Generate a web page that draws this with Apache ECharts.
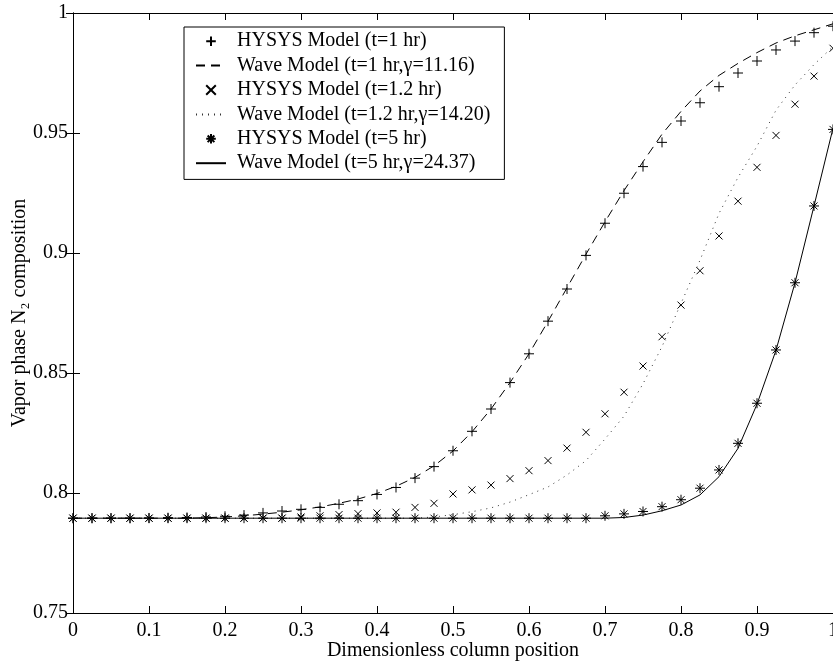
<!DOCTYPE html>
<html>
<head>
<meta charset="utf-8">
<script src="https://cdn.jsdelivr.net/npm/echarts@6/dist/echarts.min.js"></script>
<style>
  html, body { margin: 0; padding: 0; background: #fff; }
  #chart { width: 833px; height: 664px; }
</style>
</head>
<body>
<div id="chart"></div>
<script>
// column positions (dimensionless)
var xs = [0, 0.025, 0.05, 0.075, 0.1, 0.125, 0.15, 0.175, 0.2, 0.225,
          0.25, 0.275, 0.3, 0.325, 0.35, 0.375, 0.4, 0.425, 0.45, 0.475,
          0.5, 0.525, 0.55, 0.575, 0.6, 0.625, 0.65, 0.675, 0.7, 0.725,
          0.75, 0.775, 0.8, 0.825, 0.85, 0.875, 0.9, 0.925, 0.95, 0.975, 1];

var hysys1 = [0.7895, 0.7895, 0.7895, 0.7895, 0.7896, 0.7897, 0.7898, 0.79, 0.7903, 0.7908,
              0.7917, 0.7925, 0.7932, 0.794, 0.7953, 0.7968, 0.7994, 0.8023, 0.8062, 0.811,
              0.8176, 0.8257, 0.835, 0.846, 0.858, 0.8716, 0.885, 0.899, 0.9124, 0.9249,
              0.936, 0.9461, 0.955, 0.9626, 0.9693, 0.975, 0.98, 0.9846, 0.9883, 0.9918, 0.9945];

var wave1 = [0.7895, 0.7895, 0.7895, 0.7895, 0.7895, 0.7895, 0.7895, 0.7897, 0.79, 0.7905,
             0.7912, 0.792, 0.793, 0.7942, 0.7957, 0.7975, 0.7998, 0.8028, 0.8065, 0.8113,
             0.8175, 0.8255, 0.835, 0.846, 0.858, 0.8715, 0.8855, 0.8995, 0.913, 0.926,
             0.938, 0.9495, 0.959, 0.9675, 0.974, 0.979, 0.9835, 0.9875, 0.9905, 0.993, 0.9955];

var hysys12 = [0.7895, 0.7895, 0.7895, 0.7895, 0.7895, 0.7895, 0.7895, 0.7895, 0.7895, 0.7895,
               0.7895, 0.7895, 0.79, 0.7905, 0.791, 0.7914, 0.7917, 0.792, 0.794, 0.7957,
               0.7996, 0.8013, 0.8033, 0.806, 0.8093, 0.8135, 0.8187, 0.8253, 0.833, 0.842,
               0.8529, 0.8651, 0.8783, 0.8926, 0.9071, 0.9216, 0.9357, 0.949, 0.962, 0.9737, 0.9853];

var wave12 = [0.7895, 0.7895, 0.7895, 0.7895, 0.7895, 0.7895, 0.7895, 0.7895, 0.7895, 0.7895,
              0.7895, 0.7895, 0.7895, 0.7895, 0.7895, 0.7895, 0.7895, 0.7895, 0.7895, 0.79,
              0.791, 0.7922, 0.7938, 0.7962, 0.7993, 0.8025, 0.8075, 0.8135, 0.8225, 0.832,
              0.8455, 0.861, 0.879, 0.897, 0.9165, 0.9315, 0.9445, 0.9595, 0.97, 0.9785, 0.986];

var hysys5 = [0.7895, 0.7895, 0.7895, 0.7895, 0.7895, 0.7895, 0.7895, 0.7895, 0.7895, 0.7895,
              0.7895, 0.7895, 0.7895, 0.7895, 0.7895, 0.7895, 0.7895, 0.7895, 0.7895, 0.7895,
              0.7895, 0.7895, 0.7895, 0.7895, 0.7895, 0.7895, 0.7895, 0.7895, 0.7905, 0.7913,
              0.7923, 0.7943, 0.7972, 0.802, 0.8096, 0.8207, 0.8374, 0.8596, 0.8876, 0.9196, 0.9515];

var wave5 = [0.7895, 0.7895, 0.7895, 0.7895, 0.7895, 0.7895, 0.7895, 0.7895, 0.7895, 0.7895,
             0.7895, 0.7895, 0.7895, 0.7895, 0.7895, 0.7895, 0.7895, 0.7895, 0.7895, 0.7895,
             0.7895, 0.7895, 0.7895, 0.7895, 0.7895, 0.7895, 0.7895, 0.7895, 0.7895, 0.7898,
             0.7908, 0.7926, 0.795, 0.7992, 0.8068, 0.8186, 0.837, 0.8595, 0.8876, 0.9196, 0.952];

var names = ['HYSYS Model (t=1 hr)', 'Wave Model (t=1 hr,γ=11.16)',
             'HYSYS Model (t=1.2 hr)', 'Wave Model (t=1.2 hr,γ=14.20)',
             'HYSYS Model (t=5 hr)', 'Wave Model (t=5 hr,γ=24.37)'];

var font = "'Liberation Serif', 'Times New Roman', serif";

function pairs(ys) {
    return xs.map(function (x, i) { return [x, ys[i]]; });
}

function markers(name, ys, path, size) {
    return {
        name: name,
        type: 'line',
        data: pairs(ys),
        symbol: path,
        symbolSize: size,
        symbolKeepAspect: true,
        showSymbol: true,
        lineStyle: { width: 0, opacity: 0 },
        itemStyle: { color: 'none', borderColor: '#000', borderWidth: 1 },
        z: 5
    };
}

function curve(name, ys, dash, color) {
    return {
        name: name,
        type: 'line',
        data: pairs(ys),
        symbol: 'none',
        lineStyle: { color: color, width: 1, type: dash },
        itemStyle: { color: color },
        z: 3
    };
}

// legend entries: the wave model lines get no marker in the key
var legendData = names.map(function (n, i) {
    return i % 2 === 1 ? { name: n, itemStyle: { opacity: 0 } } : { name: n };
});

var chart = echarts.init(document.getElementById('chart'));

var axisCommon = {
    axisLine: { show: true, lineStyle: { color: '#000', width: 1 } },
    axisTick: { show: true, inside: true, length: 7, lineStyle: { color: '#000' } },
    splitLine: { show: false }
};

var option = {
    animation: false,
    backgroundColor: '#fff',
    grid: { left: 73, right: 0, top: 13, bottom: 51, containLabel: false, outerBoundsMode: 'none' },
    legend: {
        orient: 'vertical',
        left: 184,
        top: 27,
        data: legendData,
        itemWidth: 30,
        itemHeight: 12,
        itemGap: 0,
        padding: [2, 14, 4, 11],
        borderColor: '#000',
        borderWidth: 1,
        backgroundColor: '#fff',
        selectedMode: false,
        textStyle: { fontFamily: font, fontSize: 20, color: '#000', lineHeight: 24.4, padding: [0, 0, 0, 6] }
    },
    xAxis: [
        Object.assign({
            type: 'value', min: 0, max: 1, interval: 0.1,
            name: 'Dimensionless column position',
            nameLocation: 'middle', nameGap: 28, nameMoveOverlap: false,
            nameTextStyle: { fontFamily: font, fontSize: 20, color: '#000' },
            axisLabel: { fontFamily: font, fontSize: 20, color: '#000', margin: 8 }
        }, axisCommon),
        Object.assign({
            type: 'value', min: 0, max: 1, interval: 0.1, position: 'top',
            axisLabel: { show: false }
        }, axisCommon)
    ],
    yAxis: [
        Object.assign({
            type: 'value', min: 0.75, max: 1, interval: 0.05,
            name: 'Vapor phase N₂ composition',
            nameLocation: 'middle', nameGap: 43, nameMoveOverlap: false,
            nameTextStyle: { fontFamily: font, fontSize: 20, color: '#000' },
            axisLabel: { fontFamily: font, fontSize: 20, color: '#000', margin: 5 }
        }, axisCommon),
        Object.assign({
            type: 'value', min: 0.75, max: 1, interval: 0.05, position: 'right',
            axisLabel: { show: false }
        }, axisCommon)
    ],
    series: [
        markers(names[0], hysys1, 'path://M0,5L10,5M5,0L5,10', 10),
        curve(names[1], wave1, [9, 6], '#000'),
        markers(names[2], hysys12, 'path://M0,0L10,10M0,10L10,0', 7),
        curve(names[3], wave12, [1, 5], '#333'),
        markers(names[4], hysys5, 'path://M0,5L10,5M5,0L5,10M1.5,1.5L8.5,8.5M1.5,8.5L8.5,1.5', 10),
        curve(names[5], wave5, 'solid', '#000')
    ]
};

chart.setOption(option);
</script>
</body>
</html>
